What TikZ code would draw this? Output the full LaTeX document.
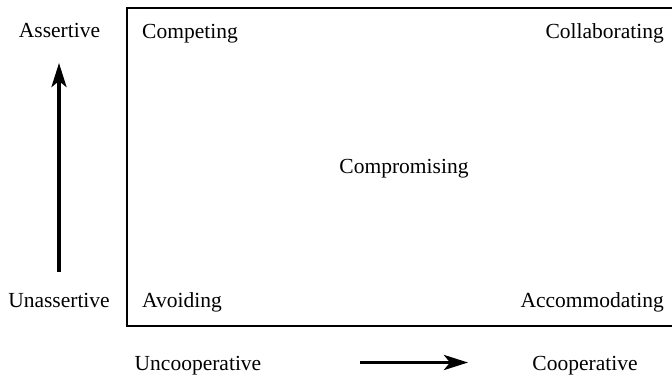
\documentclass[tikz,border=0pt]{standalone}
\usepackage{fontspec}
\setmainfont{Liberation Serif}
\usetikzlibrary{arrows.meta}
\begin{document}
\begin{tikzpicture}[x=1pt,y=-1pt,
  lbl/.style={font=\fontsize{21.5}{24}\selectfont, inner sep=0pt, anchor=base},
  axisarrow/.style={line width=3.6pt, -{Stealth[length=24pt,width=15pt,inset=6pt]}},
  frame/.style={line width=2pt}]
\useasboundingbox (0,0) rectangle (672,376);
% open-ended frame of the grid
\draw[frame] (672,7.5) -- (127,7.5) -- (127,326) -- (672,326);
% axis labels
\node[lbl] (assert) at (59.5,37) {Assertive};
\node[lbl] (unassert) at (59,307) {Unassertive};
\node[lbl] (uncoop) at (198,370) {Uncooperative};
\node[lbl] (coop) at (585,370) {Cooperative};
% quadrant labels
\node[lbl, anchor=base west] (competing) at (142,38) {Competing};
\node[lbl, anchor=base east] (collab) at (664,38) {Collaborating};
\node[lbl] (compromise) at (404,173) {Compromising};
\node[lbl, anchor=base west] (avoiding) at (142,307) {Avoiding};
\node[lbl, anchor=base east] (accom) at (664,307) {Accommodating};
% axis arrows
\coordinate (vstart) at (59,272);
\coordinate (vend) at (59,63);
\coordinate (hstart) at (360,362.5);
\coordinate (hend) at (468,362.5);
\draw[axisarrow] (vstart) -- (vend);
\draw[axisarrow] (hstart) -- (hend);
\end{tikzpicture}
\end{document}
